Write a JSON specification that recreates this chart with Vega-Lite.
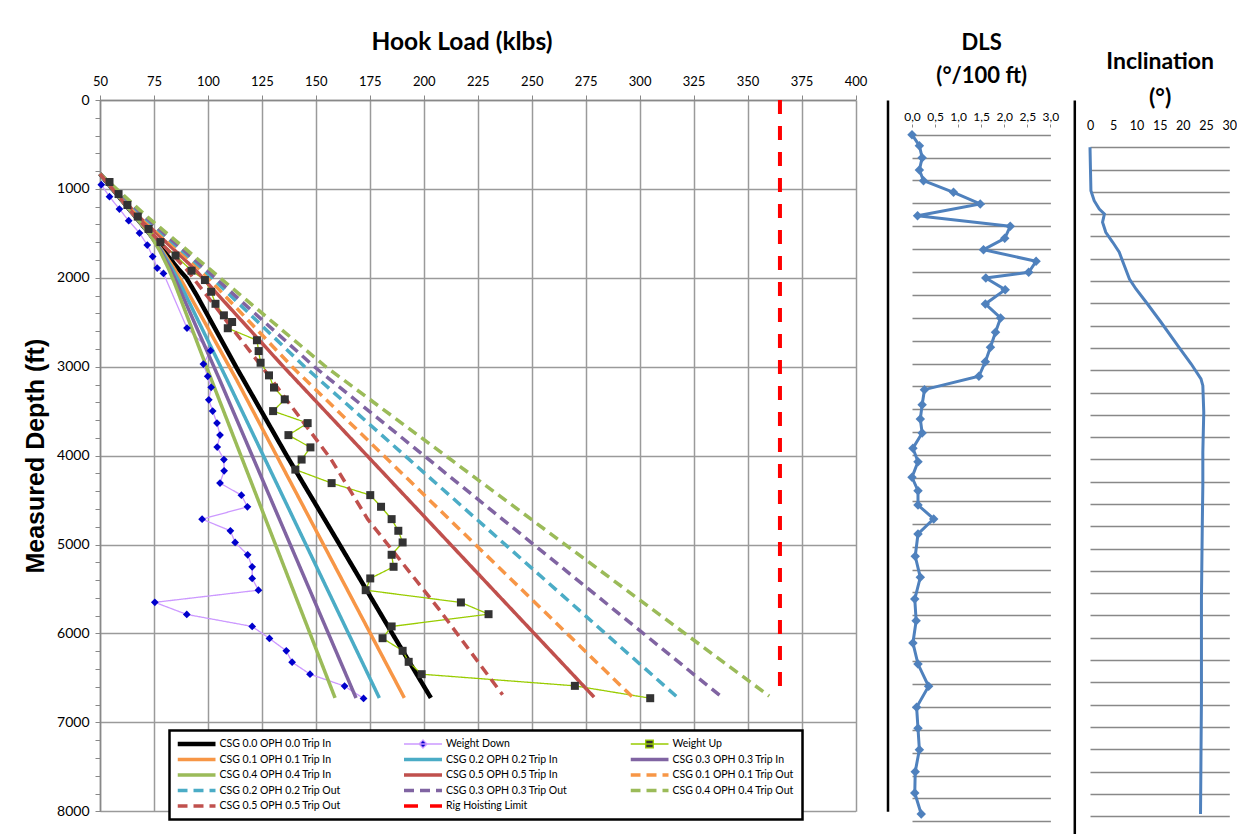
{
  "$schema": "https://vega.github.io/schema/vega-lite/v6.json",
  "background": "white",
  "padding": {"left": 23, "top": 29, "right": 0, "bottom": 0},
  "spacing": 15,
  "config": {"view": {"stroke": null}, "font": "Lato"},
  "datasets": {
    "lines": [
      {"series": "CSG 0.0 OPH 0.0 Trip In", "hookload": 50, "depth": 830},
      {"series": "CSG 0.0 OPH 0.0 Trip In", "hookload": 72.8, "depth": 1500},
      {"series": "CSG 0.0 OPH 0.0 Trip In", "hookload": 79.6, "depth": 1700},
      {"series": "CSG 0.0 OPH 0.0 Trip In", "hookload": 86.3, "depth": 1900},
      {"series": "CSG 0.0 OPH 0.0 Trip In", "hookload": 90, "depth": 2000},
      {"series": "CSG 0.0 OPH 0.0 Trip In", "hookload": 94.9, "depth": 2200},
      {"series": "CSG 0.0 OPH 0.0 Trip In", "hookload": 113, "depth": 3000},
      {"series": "CSG 0.0 OPH 0.0 Trip In", "hookload": 136.5, "depth": 4000},
      {"series": "CSG 0.0 OPH 0.0 Trip In", "hookload": 161, "depth": 5000},
      {"series": "CSG 0.0 OPH 0.0 Trip In", "hookload": 185.4, "depth": 6000},
      {"series": "CSG 0.0 OPH 0.0 Trip In", "hookload": 203.3, "depth": 6725},

      {"series": "Weight Down", "hookload": 50.6, "depth": 953},
      {"series": "Weight Down", "hookload": 54.4, "depth": 1088},
      {"series": "Weight Down", "hookload": 59.0, "depth": 1226},
      {"series": "Weight Down", "hookload": 63.3, "depth": 1358},
      {"series": "Weight Down", "hookload": 68.3, "depth": 1496},
      {"series": "Weight Down", "hookload": 71.9, "depth": 1631},
      {"series": "Weight Down", "hookload": 74.4, "depth": 1761},
      {"series": "Weight Down", "hookload": 76.5, "depth": 1890},
      {"series": "Weight Down", "hookload": 79.4, "depth": 1950},
      {"series": "Weight Down", "hookload": 90.3, "depth": 2565},
      {"series": "Weight Down", "hookload": 101.2, "depth": 2820},
      {"series": "Weight Down", "hookload": 97.9, "depth": 2970},
      {"series": "Weight Down", "hookload": 99.9, "depth": 3108},
      {"series": "Weight Down", "hookload": 101.5, "depth": 3232},
      {"series": "Weight Down", "hookload": 100.4, "depth": 3372},
      {"series": "Weight Down", "hookload": 102.2, "depth": 3499},
      {"series": "Weight Down", "hookload": 104.2, "depth": 3634},
      {"series": "Weight Down", "hookload": 105.6, "depth": 3769},
      {"series": "Weight Down", "hookload": 104.3, "depth": 3904},
      {"series": "Weight Down", "hookload": 107.4, "depth": 4044},
      {"series": "Weight Down", "hookload": 107.5, "depth": 4170},
      {"series": "Weight Down", "hookload": 105.6, "depth": 4309},
      {"series": "Weight Down", "hookload": 115.5, "depth": 4444},
      {"series": "Weight Down", "hookload": 118.3, "depth": 4575},
      {"series": "Weight Down", "hookload": 97.3, "depth": 4714},
      {"series": "Weight Down", "hookload": 110.4, "depth": 4845},
      {"series": "Weight Down", "hookload": 112.6, "depth": 4976},
      {"series": "Weight Down", "hookload": 118.4, "depth": 5115},
      {"series": "Weight Down", "hookload": 120.5, "depth": 5250},
      {"series": "Weight Down", "hookload": 120.5, "depth": 5381},
      {"series": "Weight Down", "hookload": 123.4, "depth": 5513},
      {"series": "Weight Down", "hookload": 75.4, "depth": 5650},
      {"series": "Weight Down", "hookload": 90.2, "depth": 5786},
      {"series": "Weight Down", "hookload": 120.5, "depth": 5921},
      {"series": "Weight Down", "hookload": 128.5, "depth": 6056},
      {"series": "Weight Down", "hookload": 136.3, "depth": 6195},
      {"series": "Weight Down", "hookload": 139.0, "depth": 6323},
      {"series": "Weight Down", "hookload": 147.3, "depth": 6458},
      {"series": "Weight Down", "hookload": 163.3, "depth": 6592},
      {"series": "Weight Down", "hookload": 172.1, "depth": 6731},

      {"series": "Weight Up", "hookload": 54.4, "depth": 922},
      {"series": "Weight Up", "hookload": 58.6, "depth": 1058},
      {"series": "Weight Up", "hookload": 62.7, "depth": 1181},
      {"series": "Weight Up", "hookload": 67.5, "depth": 1311},
      {"series": "Weight Up", "hookload": 72.5, "depth": 1451},
      {"series": "Weight Up", "hookload": 78.0, "depth": 1598},
      {"series": "Weight Up", "hookload": 85.0, "depth": 1749},
      {"series": "Weight Up", "hookload": 92.4, "depth": 1920},
      {"series": "Weight Up", "hookload": 98.6, "depth": 2025},
      {"series": "Weight Up", "hookload": 101.5, "depth": 2157},
      {"series": "Weight Up", "hookload": 103.5, "depth": 2292},
      {"series": "Weight Up", "hookload": 107.4, "depth": 2422},
      {"series": "Weight Up", "hookload": 111.2, "depth": 2497},
      {"series": "Weight Up", "hookload": 109.2, "depth": 2567},
      {"series": "Weight Up", "hookload": 122.7, "depth": 2702},
      {"series": "Weight Up", "hookload": 123.5, "depth": 2824},
      {"series": "Weight Up", "hookload": 124.4, "depth": 2955},
      {"series": "Weight Up", "hookload": 128.3, "depth": 3097},
      {"series": "Weight Up", "hookload": 130.6, "depth": 3234},
      {"series": "Weight Up", "hookload": 135.6, "depth": 3367},
      {"series": "Weight Up", "hookload": 130.2, "depth": 3499},
      {"series": "Weight Up", "hookload": 146.2, "depth": 3634},
      {"series": "Weight Up", "hookload": 137.3, "depth": 3769},
      {"series": "Weight Up", "hookload": 147.5, "depth": 3907},
      {"series": "Weight Up", "hookload": 143.4, "depth": 4044},
      {"series": "Weight Up", "hookload": 140.5, "depth": 4157},
      {"series": "Weight Up", "hookload": 157.3, "depth": 4309},
      {"series": "Weight Up", "hookload": 175.2, "depth": 4444},
      {"series": "Weight Up", "hookload": 180.2, "depth": 4575},
      {"series": "Weight Up", "hookload": 185.1, "depth": 4714},
      {"series": "Weight Up", "hookload": 188.2, "depth": 4845},
      {"series": "Weight Up", "hookload": 190.2, "depth": 4976},
      {"series": "Weight Up", "hookload": 185.1, "depth": 5115},
      {"series": "Weight Up", "hookload": 186.0, "depth": 5250},
      {"series": "Weight Up", "hookload": 175.2, "depth": 5381},
      {"series": "Weight Up", "hookload": 173.1, "depth": 5513},
      {"series": "Weight Up", "hookload": 217.2, "depth": 5651},
      {"series": "Weight Up", "hookload": 230.0, "depth": 5783},
      {"series": "Weight Up", "hookload": 185.1, "depth": 5921},
      {"series": "Weight Up", "hookload": 180.9, "depth": 6053},
      {"series": "Weight Up", "hookload": 190.2, "depth": 6195},
      {"series": "Weight Up", "hookload": 193.0, "depth": 6319},
      {"series": "Weight Up", "hookload": 199.0, "depth": 6458},
      {"series": "Weight Up", "hookload": 270.0, "depth": 6589},
      {"series": "Weight Up", "hookload": 304.9, "depth": 6728},

      {"series": "CSG 0.1 OPH 0.1 Trip In", "hookload": 50, "depth": 830},
      {"series": "CSG 0.1 OPH 0.1 Trip In", "hookload": 72.8, "depth": 1500},
      {"series": "CSG 0.1 OPH 0.1 Trip In", "hookload": 79.0, "depth": 1700},
      {"series": "CSG 0.1 OPH 0.1 Trip In", "hookload": 84.5, "depth": 1900},
      {"series": "CSG 0.1 OPH 0.1 Trip In", "hookload": 88.2, "depth": 2050},
      {"series": "CSG 0.1 OPH 0.1 Trip In", "hookload": 113.1, "depth": 3139},
      {"series": "CSG 0.1 OPH 0.1 Trip In", "hookload": 191.0, "depth": 6725},

      {"series": "CSG 0.2 OPH 0.2 Trip In", "hookload": 50, "depth": 830},
      {"series": "CSG 0.2 OPH 0.2 Trip In", "hookload": 72.8, "depth": 1500},
      {"series": "CSG 0.2 OPH 0.2 Trip In", "hookload": 78.6, "depth": 1700},
      {"series": "CSG 0.2 OPH 0.2 Trip In", "hookload": 83.5, "depth": 1900},
      {"series": "CSG 0.2 OPH 0.2 Trip In", "hookload": 86.8, "depth": 2050},
      {"series": "CSG 0.2 OPH 0.2 Trip In", "hookload": 108.7, "depth": 3139},
      {"series": "CSG 0.2 OPH 0.2 Trip In", "hookload": 179.4, "depth": 6725},

      {"series": "CSG 0.3 OPH 0.3 Trip In", "hookload": 50, "depth": 830},
      {"series": "CSG 0.3 OPH 0.3 Trip In", "hookload": 72.8, "depth": 1500},
      {"series": "CSG 0.3 OPH 0.3 Trip In", "hookload": 78.2, "depth": 1700},
      {"series": "CSG 0.3 OPH 0.3 Trip In", "hookload": 82.6, "depth": 1900},
      {"series": "CSG 0.3 OPH 0.3 Trip In", "hookload": 85.5, "depth": 2050},
      {"series": "CSG 0.3 OPH 0.3 Trip In", "hookload": 105.3, "depth": 3139},
      {"series": "CSG 0.3 OPH 0.3 Trip In", "hookload": 168.6, "depth": 6725},

      {"series": "CSG 0.4 OPH 0.4 Trip In", "hookload": 50, "depth": 830},
      {"series": "CSG 0.4 OPH 0.4 Trip In", "hookload": 72.8, "depth": 1500},
      {"series": "CSG 0.4 OPH 0.4 Trip In", "hookload": 77.8, "depth": 1700},
      {"series": "CSG 0.4 OPH 0.4 Trip In", "hookload": 81.8, "depth": 1900},
      {"series": "CSG 0.4 OPH 0.4 Trip In", "hookload": 84.4, "depth": 2050},
      {"series": "CSG 0.4 OPH 0.4 Trip In", "hookload": 101.5, "depth": 3139},
      {"series": "CSG 0.4 OPH 0.4 Trip In", "hookload": 158.9, "depth": 6725},

      {"series": "CSG 0.5 OPH 0.5 Trip In", "hookload": 50, "depth": 830},
      {"series": "CSG 0.5 OPH 0.5 Trip In", "hookload": 67.5, "depth": 1300},
      {"series": "CSG 0.5 OPH 0.5 Trip In", "hookload": 93.8, "depth": 1900},
      {"series": "CSG 0.5 OPH 0.5 Trip In", "hookload": 135.0, "depth": 3000},
      {"series": "CSG 0.5 OPH 0.5 Trip In", "hookload": 278.9, "depth": 6716},

      {"series": "CSG 0.1 OPH 0.1 Trip Out", "hookload": 50, "depth": 830},
      {"series": "CSG 0.1 OPH 0.1 Trip Out", "hookload": 68.7, "depth": 1300},
      {"series": "CSG 0.1 OPH 0.1 Trip Out", "hookload": 96.1, "depth": 1900},
      {"series": "CSG 0.1 OPH 0.1 Trip Out", "hookload": 139.0, "depth": 3000},
      {"series": "CSG 0.1 OPH 0.1 Trip Out", "hookload": 296.7, "depth": 6716},

      {"series": "CSG 0.2 OPH 0.2 Trip Out", "hookload": 50, "depth": 830},
      {"series": "CSG 0.2 OPH 0.2 Trip Out", "hookload": 69.5, "depth": 1300},
      {"series": "CSG 0.2 OPH 0.2 Trip Out", "hookload": 97.6, "depth": 1900},
      {"series": "CSG 0.2 OPH 0.2 Trip Out", "hookload": 144.8, "depth": 3000},
      {"series": "CSG 0.2 OPH 0.2 Trip Out", "hookload": 317.2, "depth": 6712},

      {"series": "CSG 0.3 OPH 0.3 Trip Out", "hookload": 50, "depth": 830},
      {"series": "CSG 0.3 OPH 0.3 Trip Out", "hookload": 70.3, "depth": 1300},
      {"series": "CSG 0.3 OPH 0.3 Trip Out", "hookload": 98.8, "depth": 1900},
      {"series": "CSG 0.3 OPH 0.3 Trip Out", "hookload": 149.3, "depth": 3000},
      {"series": "CSG 0.3 OPH 0.3 Trip Out", "hookload": 337.6, "depth": 6706},

      {"series": "CSG 0.4 OPH 0.4 Trip Out", "hookload": 50, "depth": 830},
      {"series": "CSG 0.4 OPH 0.4 Trip Out", "hookload": 71.2, "depth": 1300},
      {"series": "CSG 0.4 OPH 0.4 Trip Out", "hookload": 100.7, "depth": 1900},
      {"series": "CSG 0.4 OPH 0.4 Trip Out", "hookload": 154.6, "depth": 3000},
      {"series": "CSG 0.4 OPH 0.4 Trip Out", "hookload": 360.0, "depth": 6704},

      {"series": "CSG 0.5 OPH 0.5 Trip Out", "hookload": 50, "depth": 830},
      {"series": "CSG 0.5 OPH 0.5 Trip Out", "hookload": 66.0, "depth": 1300},
      {"series": "CSG 0.5 OPH 0.5 Trip Out", "hookload": 89.9, "depth": 1900},
      {"series": "CSG 0.5 OPH 0.5 Trip Out", "hookload": 125.0, "depth": 3000},
      {"series": "CSG 0.5 OPH 0.5 Trip Out", "hookload": 157.0, "depth": 4039},
      {"series": "CSG 0.5 OPH 0.5 Trip Out", "hookload": 174.0, "depth": 4714},
      {"series": "CSG 0.5 OPH 0.5 Trip Out", "hookload": 207.0, "depth": 5726},
      {"series": "CSG 0.5 OPH 0.5 Trip Out", "hookload": 236.5, "depth": 6690},

      {"series": "Rig Hoisting Limit", "hookload": 365, "depth": 0},
      {"series": "Rig Hoisting Limit", "hookload": 365, "depth": 6725}
    ],
    "dls": [
      {"dls": 0.0, "depth": 0}, {"dls": 0.16, "depth": 120}, {"dls": 0.22, "depth": 251}, {"dls": 0.16, "depth": 386},
      {"dls": 0.25, "depth": 502}, {"dls": 0.90, "depth": 629}, {"dls": 1.48, "depth": 757}, {"dls": 0.12, "depth": 885},
      {"dls": 2.13, "depth": 1001}, {"dls": 2.01, "depth": 1132}, {"dls": 1.55, "depth": 1256}, {"dls": 2.69, "depth": 1383},
      {"dls": 2.53, "depth": 1503}, {"dls": 1.60, "depth": 1565}, {"dls": 2.02, "depth": 1693}, {"dls": 1.59, "depth": 1849},
      {"dls": 1.92, "depth": 2002}, {"dls": 1.81, "depth": 2158}, {"dls": 1.70, "depth": 2322}, {"dls": 1.59, "depth": 2480},
      {"dls": 1.45, "depth": 2639}, {"dls": 0.27, "depth": 2785}, {"dls": 0.22, "depth": 2949}, {"dls": 0.18, "depth": 3105},
      {"dls": 0.22, "depth": 3258}, {"dls": 0.02, "depth": 3425}, {"dls": 0.13, "depth": 3572}, {"dls": 0.0, "depth": 3742},
      {"dls": 0.13, "depth": 3889}, {"dls": 0.13, "depth": 4045}, {"dls": 0.47, "depth": 4197}, {"dls": 0.13, "depth": 4362},
      {"dls": 0.07, "depth": 4605}, {"dls": 0.18, "depth": 4835}, {"dls": 0.06, "depth": 5072}, {"dls": 0.09, "depth": 5309},
      {"dls": 0.02, "depth": 5552}, {"dls": 0.13, "depth": 5782}, {"dls": 0.36, "depth": 6025}, {"dls": 0.10, "depth": 6255},
      {"dls": 0.13, "depth": 6484}, {"dls": 0.16, "depth": 6718}, {"dls": 0.07, "depth": 6958}, {"dls": 0.06, "depth": 7191},
      {"dls": 0.20, "depth": 7420}
    ],
    "incl": [
      {"inc": 0.0, "depth": 0}, {"inc": 0.1, "depth": 243}, {"inc": 0.2, "depth": 487}, {"inc": 0.9, "depth": 599},
      {"inc": 2.0, "depth": 692}, {"inc": 3.1, "depth": 748}, {"inc": 2.7, "depth": 841}, {"inc": 3.4, "depth": 953},
      {"inc": 4.9, "depth": 1065}, {"inc": 6.3, "depth": 1177}, {"inc": 7.4, "depth": 1328}, {"inc": 8.5, "depth": 1477},
      {"inc": 9.9, "depth": 1589}, {"inc": 12.1, "depth": 1738}, {"inc": 15.3, "depth": 1962}, {"inc": 18.9, "depth": 2225},
      {"inc": 21.8, "depth": 2430}, {"inc": 23.9, "depth": 2598}, {"inc": 24.3, "depth": 2673}, {"inc": 24.5, "depth": 2972},
      {"inc": 24.3, "depth": 3420}, {"inc": 24.3, "depth": 3795}, {"inc": 24.2, "depth": 4168}, {"inc": 24.0, "depth": 5065},
      {"inc": 24.0, "depth": 6186}, {"inc": 23.8, "depth": 7477}
    ]
  },
  "hconcat": [
    {
      "width": 755.5,
      "height": 711.3,
      "data": {"name": "lines"},
      "layer": [
        {
          "mark": {"type": "line"},
          "encoding": {
            "x": {
              "field": "hookload", "type": "quantitative",
              "scale": {"domain": [50, 400], "nice": false, "zero": false},
              "axis": {
                "orient": "top", "values": [50,75,100,125,150,175,200,225,250,275,300,325,350,375,400],
                "format": "d", "labelFlush": false, "labelOverlap": false,
                "labelFont": "Lato", "labelFontSize": 13, "labelColor": "#000", "labelPadding": 7,
                "tickSize": 5, "tickColor": "#888", "domainColor": "#888", "domainWidth": 1.5,
                "grid": true, "gridColor": "#9a9a9a", "gridWidth": 1.5,
                "title": "Hook Load (klbs)", "titleFont": "Lato", "titleFontSize": 24.5, "titleFontWeight": "bold",
                "titleColor": "#000", "titlePadding": 21, "titleX": 361.5
              }
            },
            "y": {
              "field": "depth", "type": "quantitative",
              "scale": {"domain": [0, 8000], "reverse": true, "nice": false, "zero": false},
              "axis": {
                "orient": "left",
                "values": [0,200,400,600,800,1000,1200,1400,1600,1800,2000,2200,2400,2600,2800,3000,3200,3400,3600,3800,4000,4200,4400,4600,4800,5000,5200,5400,5600,5800,6000,6200,6400,6600,6800,7000,7200,7400,7600,7800,8000],
                "format": "d", "labelExpr": "datum.value % 1000 === 0 ? datum.label : ''",
                "labelOverlap": false, "labelFlush": false,
                "labelFont": "Lato", "labelFontSize": 14, "labelColor": "#000", "labelPadding": 6,
                "tickSize": 5, "tickColor": "#888", "domainColor": "#888", "domainWidth": 1.5,
                "grid": true, "gridColor": "#9a9a9a", "gridWidth": 1.5,
                "gridOpacity": {"condition": {"test": "datum.value % 1000 === 0", "value": 1}, "value": 0},
                "title": "Measured Depth (ft)", "titleFont": "Liberation Sans", "titleFontSize": 25,
                "titleFontWeight": "bold", "titleColor": "#000", "titlePadding": 8
              }
            },
            "color": {
              "field": "series", "type": "nominal",
              "scale": {
                "domain": ["CSG 0.0 OPH 0.0 Trip In", "Weight Down", "Weight Up", "CSG 0.1 OPH 0.1 Trip In", "CSG 0.2 OPH 0.2 Trip In", "CSG 0.3 OPH 0.3 Trip In", "CSG 0.4 OPH 0.4 Trip In", "CSG 0.5 OPH 0.5 Trip In", "CSG 0.1 OPH 0.1 Trip Out", "CSG 0.2 OPH 0.2 Trip Out", "CSG 0.3 OPH 0.3 Trip Out", "CSG 0.4 OPH 0.4 Trip Out", "CSG 0.5 OPH 0.5 Trip Out", "Rig Hoisting Limit"],
                "range": ["#000000", "#CC99FF", "#99CC00", "#F79646", "#4BACC6", "#8064A2", "#9BBB59", "#C0504D", "#F79646", "#4BACC6", "#8064A2", "#9BBB59", "#C0504D", "#FF0000"]
              },
              "legend": {
                "title": null, "orient": "none", "legendX": 69.5, "legendY": 630.5,
                "columns": 3, "direction": "horizontal", "gridAlign": "all",
                "symbolType": "stroke", "symbolSize": 1444, "symbolStrokeWidth": 3.5,
                "clipHeight": 11, "rowPadding": 4.5, "columnPadding": 62.5,
                "labelFont": "Lato", "labelFontSize": 10.5, "labelColor": "#000", "labelOffset": 4, "labelLimit": 300,
                "padding": 8, "strokeColor": "#000", "fillColor": "#fff",
                "encode": {
                  "legend": {"update": {"strokeWidth": {"value": 2.5}}},
                  "labels": {"update": {"x": {"value": 42}}},
                  "symbols": {
                    "update": {
                      "x": {"value": 19},
                      "shape": {"signal": "datum.value === 'Weight Down' ? 'M-1,0L1,0M0,-0.21L0.21,0L0,0.21L-0.21,0Z' : datum.value === 'Weight Up' ? 'M-1,0L1,0M-0.2,-0.2L0.2,-0.2L0.2,0.2L-0.2,0.2Z' : 'stroke'"},
                      "fill": {"signal": "datum.value === 'Weight Down' ? '#0000CC' : datum.value === 'Weight Up' ? '#333333' : 'transparent'"},
                      "strokeWidth": {"signal": "datum.value === 'Weight Down' || datum.value === 'Weight Up' ? 1.3 : datum.value === 'CSG 0.0 OPH 0.0 Trip In' ? 4.5 : 3.5"}
                    }
                  }
                }
              }
            },
            "strokeDash": {
              "field": "series", "type": "nominal",
              "scale": {
                "domain": ["CSG 0.0 OPH 0.0 Trip In", "Weight Down", "Weight Up", "CSG 0.1 OPH 0.1 Trip In", "CSG 0.2 OPH 0.2 Trip In", "CSG 0.3 OPH 0.3 Trip In", "CSG 0.4 OPH 0.4 Trip In", "CSG 0.5 OPH 0.5 Trip In", "CSG 0.1 OPH 0.1 Trip Out", "CSG 0.2 OPH 0.2 Trip Out", "CSG 0.3 OPH 0.3 Trip Out", "CSG 0.4 OPH 0.4 Trip Out", "CSG 0.5 OPH 0.5 Trip Out", "Rig Hoisting Limit"],
                "range": [[1,0],[1,0],[1,0],[1,0],[1,0],[1,0],[1,0],[1,0],[10,6],[10,6],[10,6],[10,6],[10,6],[14,12]]
              }
            },
            "strokeWidth": {
              "condition": [
                {"test": "datum.series === 'Weight Down' || datum.series === 'Weight Up'", "value": 1.3},
                {"test": "datum.series === 'CSG 0.0 OPH 0.0 Trip In'", "value": 4.5},
                {"test": "datum.series === 'Rig Hoisting Limit'", "value": 4}
              ],
              "value": 3.5
            },
            "order": {"field": "depth", "type": "quantitative"}
          }
        },
        {
          "transform": [{"filter": "datum.series === 'Weight Down'"}],
          "mark": {"type": "point", "shape": "diamond", "filled": true, "color": "#0000CC", "size": 60, "opacity": 1},
          "encoding": {
            "x": {"field": "hookload", "type": "quantitative"},
            "y": {"field": "depth", "type": "quantitative", "axis": null}
          }
        },
        {
          "transform": [{"filter": "datum.series === 'Weight Up'"}],
          "mark": {"type": "point", "shape": "square", "filled": true, "color": "#333333", "size": 64, "opacity": 1},
          "encoding": {
            "x": {"field": "hookload", "type": "quantitative"},
            "y": {
              "field": "depth", "type": "quantitative",
              "axis": {"orient": "right", "offset": 32, "labels": false, "ticks": false, "grid": false, "domain": true, "domainColor": "#000", "domainWidth": 2.5, "title": null}
            }
          }
        }
      ],
      "resolve": {"axis": {"y": "independent"}}
    },
    {
      "width": 138.4,
      "height": 721.3,
      "data": {"name": "dls"},
      "mark": {"type": "line", "color": "#4F81BD", "strokeWidth": 3, "point": {"shape": "diamond", "filled": true, "color": "#4F81BD", "size": 90, "opacity": 1}},
      "encoding": {
        "x": {
          "field": "dls", "type": "quantitative",
          "scale": {"domain": [0, 3], "nice": false, "zero": false},
          "axis": {
            "orient": "top", "offset": -27, "values": [0, 0.5, 1, 1.5, 2, 2.5, 3],
            "format": ".1f", "labelExpr": "replace(datum.label, '.', ',')",
            "labelFlush": false, "labelOverlap": false, "labelSeparation": 0,
            "grid": false, "domain": false, "ticks": true, "tickSize": 3, "tickColor": "#888",
            "labelFont": "Lato", "labelFontSize": 12, "labelColor": "#000", "labelPadding": 1,
            "title": ["DLS", "(°/100 ft)"], "titleFont": "Lato", "titleFontSize": 22, "titleFontWeight": "bold",
            "titleColor": "#000", "titleLineHeight": 33, "titlePadding": 22.5
          }
        },
        "y": {
          "field": "depth", "type": "quantitative",
          "scale": {"domain": [-379, 7500], "reverse": true, "nice": false, "zero": false},
          "axis": {
            "values": [0,250,500,750,1000,1250,1500,1750,2000,2250,2500,2750,3000,3250,3500,3750,4000,4250,4500,4750,5000,5250,5500,5750,6000,6250,6500,6750,7000,7250,7500],
            "grid": true, "gridColor": "#888", "gridWidth": 1.5, "labels": false, "ticks": false, "domain": false, "title": null
          }
        },
        "order": {"field": "depth", "type": "quantitative"}
      }
    },
    {
      "width": 139.3,
      "height": 734,
      "data": {"name": "incl"},
      "mark": {"type": "line", "color": "#4F81BD", "strokeWidth": 3},
      "encoding": {
        "x": {
          "field": "inc", "type": "quantitative",
          "scale": {"domain": [0, 30], "nice": false, "zero": false},
          "axis": {
            "orient": "top", "offset": -34.5, "values": [0, 5, 10, 15, 20, 25, 30],
            "format": "d", "labelFlush": false, "labelOverlap": false,
            "grid": false, "domain": false, "ticks": false,
            "labelFont": "Lato", "labelFontSize": 12.5, "labelColor": "#000", "labelPadding": 2,
            "title": ["Inclination", "(°)"], "titleFont": "Lato", "titleFontSize": 23, "titleFontWeight": "bold",
            "titleColor": "#000", "titleLineHeight": 36, "titlePadding": 10
          }
        },
        "y": {
          "field": "depth", "type": "quantitative",
          "scale": {"domain": [-530.4, 7700.7], "reverse": true, "nice": false, "zero": false},
          "axis": {
            "values": [0,250,500,750,1000,1250,1500,1750,2000,2250,2500,2750,3000,3250,3500,3750,4000,4250,4500,4750,5000,5250,5500,5750,6000,6250,6500,6750,7000,7250,7500],
            "grid": true, "gridColor": "#888", "gridWidth": 1.5, "labels": false, "ticks": false,
            "domain": true, "domainColor": "#000", "domainWidth": 2.5, "offset": 15.7, "title": null
          }
        },
        "order": {"field": "depth", "type": "quantitative"}
      }
    }
  ]
}
